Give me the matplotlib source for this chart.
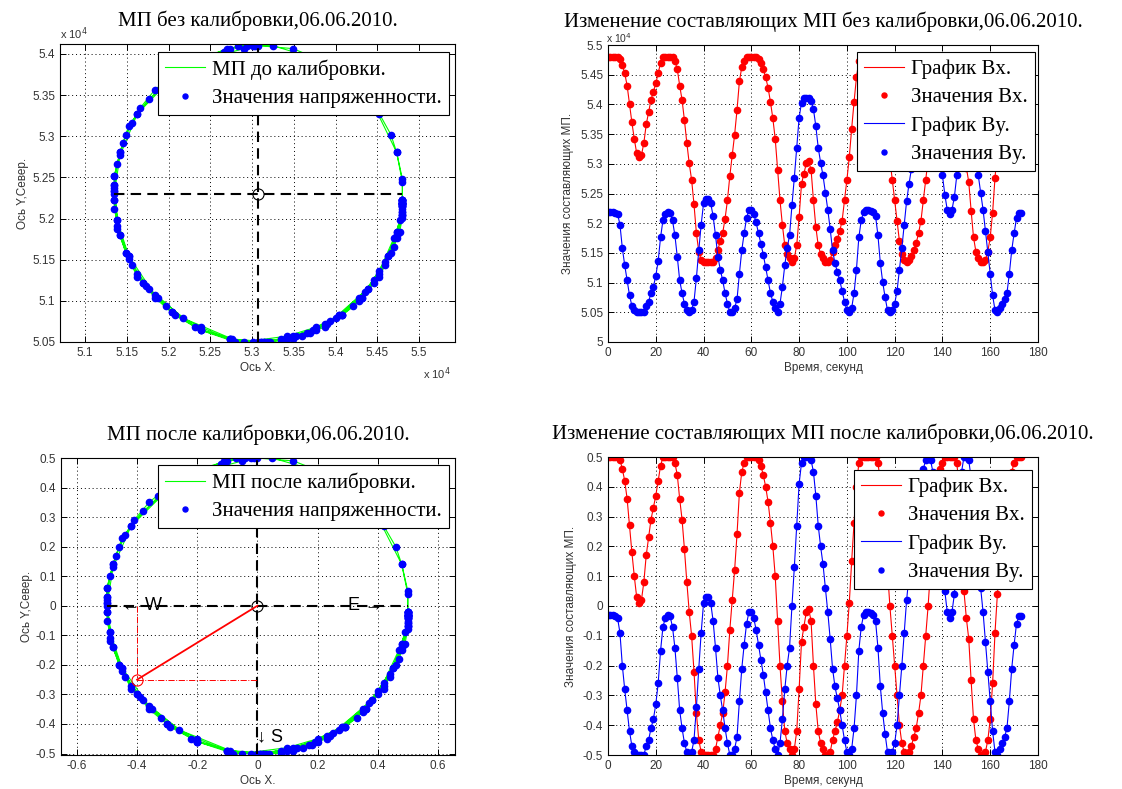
import numpy as np
import matplotlib.pyplot as plt
from matplotlib.ticker import FuncFormatter

# raw magnetometer readings (nT), one sample per second
bx_raw = [54800, 54800, 54800, 54800, 54800, 54766, 54662, 54524, 54317, 54007,
          53696, 53420, 53179, 53110, 53144, 53351, 53662, 53869, 54076, 54214,
          54352, 54524, 54697, 54800, 54800, 54800, 54800, 54800, 54731, 54593,
          54317, 54076, 53731, 53351, 53006, 52730, 52316, 51833, 51523, 51385,
          51350, 51350, 51350, 51350, 51350, 51419, 51557, 51695, 51833, 52075,
          52385, 52799, 53144, 53489, 53903, 54386, 54628, 54731, 54800, 54800,
          54800, 54800, 54800, 54766, 54697, 54593, 54455, 54283, 54041, 53765,
          53420, 52903, 52385, 51971, 51626, 51488, 51419, 51350, 51419, 51626,
          52109, 52661, 52834, 53006, 53041, 52903, 52385, 51937, 51626, 51488,
          51419, 51350, 51350, 51385, 51523, 51626, 51730, 51868, 52040, 52385,
          52730, 53110, 53593, 54041, 54455, 54731, 54800, 54800, 54800, 54800,
          54800, 54800, 54800, 54731, 54524, 54283, 53938, 53489, 53075, 52730,
          52385, 52040, 51695, 51488, 51385, 51350, 51385, 51454, 51557, 51661,
          51833, 52040, 52385, 52730, 53075, 53489, 53834, 54214, 54524, 54662,
          54731, 54800, 54800, 54800, 54800, 54800, 54731, 54455, 53834, 53248,
          52937, 52696, 52213, 51764, 51523, 51419, 51350, 51350, 51385, 51523,
          51764, 52178, 52765, 53213, 53524, 53765, 53869, 54076, 54386, 54628,
          54731, 54800, 54800, 54800]
by_raw = [52192, 52192, 52192, 52174, 52156, 51976, 51580, 51292, 51040, 50788,
          50608, 50536, 50500, 50500, 50500, 50500, 50608, 50680, 50824, 50932,
          51112, 51364, 51760, 52048, 52156, 52192, 52174, 52048, 51796, 51436,
          51040, 50824, 50644, 50536, 50500, 50536, 50680, 51076, 51544, 51976,
          52336, 52408, 52408, 52336, 52120, 51796, 51436, 51220, 51040, 50824,
          50644, 50500, 50500, 50572, 50716, 51148, 51544, 51832, 52084, 52228,
          52228, 52156, 52012, 51832, 51652, 51472, 51256, 51040, 50824, 50680,
          50572, 50500, 50644, 50932, 51292, 51580, 51796, 52300, 52768, 53272,
          53776, 54028, 54100, 54100, 54100, 54064, 53920, 53632, 53272, 53020,
          52804, 52516, 52228, 51904, 51544, 51328, 51184, 51040, 50860, 50680,
          50536, 50500, 50572, 50824, 51220, 51760, 52048, 52192, 52228, 52228,
          52210, 52192, 52120, 51796, 51328, 51004, 50752, 50536, 50500, 50536,
          50644, 50860, 51220, 51580, 51976, 52372, 52660, 52912, 53164, 53344,
          53560, 53740, 53956, 54064, 54100, 54064, 53920, 53668, 53272, 53020,
          52804, 52480, 52228, 52156, 52228, 52444, 52804, 53380, 53920, 54100,
          54100, 54064, 53848, 53452, 53128, 52804, 52516, 52228, 51868, 51508,
          51148, 50788, 50536, 50500, 50572, 50644, 50716, 50824, 51148, 51544,
          51832, 52084, 52174, 52174]

# example field vector drawn on the calibrated plot
vec_x, vec_y = -0.4, -0.25

t = np.arange(len(bx_raw))
bx = np.array(bx_raw, dtype=float)
by = np.array(by_raw, dtype=float)

# min/max calibration
cx = (bx.max() + bx.min()) / 2
cy = (by.max() + by.min()) / 2
bx_cal = (bx - cx) / (bx.max() - bx.min())
by_cal = (by - cy) / (by.max() - by.min())

W, H = 1122, 789
fig = plt.figure(figsize=(W / 100, H / 100), dpi=100)

SERIF = 'Liberation Serif'
SANS = 'Liberation Sans'
GREEN = '#00ff00'
LABEL_C = '#333333'
MS = 9


def px_axes(l, t_, r, b):
    return fig.add_axes([l / W, 1 - b / H, (r - l) / W, (b - t_) / H])


def style(ax):
    ax.grid(True, linestyle=(0, (1, 3)), color='k', linewidth=0.7)
    ax.set_axisbelow(True)
    ax.tick_params(direction='in', top=True, right=True, labelsize=8.5,
                   length=4, width=0.7, labelcolor=LABEL_C)
    for lab in ax.get_xticklabels() + ax.get_yticklabels():
        lab.set_family(SANS)
    for s in ax.spines.values():
        s.set_linewidth(0.8)


def add_legend(ax, handles, right, top):
    leg = ax.legend(handles=handles, loc='upper right',
                    bbox_to_anchor=(right / W, 1 - top / H),
                    bbox_transform=fig.transFigure,
                    prop={'family': SERIF, 'size': 15},
                    fancybox=False, framealpha=1, edgecolor='k',
                    borderpad=0.35, labelspacing=0.42, handlelength=1.9,
                    handletextpad=0.35, borderaxespad=0, markerscale=0.8)
    leg.get_frame().set_linewidth(0.8)
    return leg


def labels(ax, xl, yl, ypad=2):
    ax.set_xlabel(xl, family=SANS, fontsize=8.5, color=LABEL_C, labelpad=2)
    ax.set_ylabel(yl, family=SANS, fontsize=8.5, color=LABEL_C, labelpad=ypad)


fmt = FuncFormatter(lambda v, p: '%g' % (round(v, 6) + 0.0))
fmt4 = FuncFormatter(lambda v, p: '%g' % (round(v / 1e4, 6) + 0.0))

# ---------- top left: raw circle ----------
ax1 = px_axes(60, 44, 455, 342)
g1, = ax1.plot(bx, by, '-', color=GREEN, lw=0.8, label='МП до калибровки.')
p1, = ax1.plot(bx, by, '.', color='b', ms=MS, label='Значения напряженности.')
ax1.plot([bx.min(), bx.max()], [cy, cy], 'k--', lw=1.5, dashes=(5, 3))
ax1.plot([cx, cx], [by.min(), by.max()], 'k--', lw=1.5, dashes=(5, 3))
ax1.plot(cx, cy, 'o', color='k', mfc='none', ms=8, mew=0.8)
ax1.set_xlim(50700, 55430)
ax1.set_ylim(50500, 54120)
ax1.set_xticks(np.arange(51000, 55001, 500))
ax1.set_yticks(np.arange(50500, 54001, 500))
ax1.xaxis.set_major_formatter(fmt4)
ax1.yaxis.set_major_formatter(fmt4)
style(ax1)
ax1.set_title('МП без калибровки,06.06.2010.', family=SERIF, fontsize=15, pad=13)
labels(ax1, 'Ось X.', 'Ось Y,Север.')
add_legend(ax1, [g1, p1], 449, 52)
fig.text(60 / W, 1 - 34 / H, r'x 10$^4$', family=SANS, fontsize=8, color=LABEL_C, va='center')
fig.text(423 / W, 1 - 374 / H, r'x 10$^4$', family=SANS, fontsize=8, color=LABEL_C, va='center')

# ---------- top right: raw components ----------
ax2 = px_axes(608, 45, 1038, 342)
l1, = ax2.plot(t, bx, '-', color='r', lw=0.8, label='График Bx.')
m1, = ax2.plot(t, bx, '.', color='r', ms=MS, label='Значения Bx.')
l2, = ax2.plot(t, by, '-', color='b', lw=0.8, label='График By.')
m2, = ax2.plot(t, by, '.', color='b', ms=MS, label='Значения By.')
ax2.set_xlim(0, 180)
ax2.set_ylim(50000, 55000)
ax2.set_xticks(np.arange(0, 181, 20))
ax2.set_yticks(np.arange(50000, 55001, 500))
ax2.yaxis.set_major_formatter(fmt4)
style(ax2)
ax2.set_title('Изменение составляющих МП без калибровки,06.06.2010.', family=SERIF,
              fontsize=15, pad=13)
labels(ax2, 'Время, секунд', 'Значения составляющих МП.', ypad=4)
add_legend(ax2, [l1, m1, l2, m2], 1035, 52)
fig.text(606 / W, 1 - 38 / H, r'x 10$^4$', family=SANS, fontsize=7.5, color=LABEL_C, va='center')

# ---------- bottom left: calibrated circle ----------
ax3 = px_axes(61, 458, 455, 755)
g3, = ax3.plot(bx_cal, by_cal, '-', color=GREEN, lw=0.8, label='МП после калибровки.')
p3, = ax3.plot(bx_cal, by_cal, '.', color='b', ms=MS, label='Значения напряженности.')
ax3.plot([-0.5, 0.5], [0, 0], 'k--', lw=1.5, dashes=(5, 3))
ax3.plot([0, 0], [-0.5, 0.5], 'k--', lw=1.5, dashes=(5, 3))
ax3.plot(0, 0, 'o', color='k', mfc='none', ms=8, mew=0.8)
ax3.plot([vec_x, vec_x], [0, vec_y], '-.', color='r', lw=0.7)
ax3.plot([vec_x, 0], [vec_y, vec_y], '-.', color='r', lw=0.7)
ax3.plot([0, vec_x], [0, vec_y], '-', color='r', lw=1.3)
ax3.plot(vec_x, vec_y, 'o', color='r', mfc='none', ms=8, mew=0.8)
ax3.text(-0.45, 0, '← W', family=SANS, fontsize=13, va='center', ha='left')
ax3.text(0.3, 0, 'E →', family=SANS, fontsize=13, va='center', ha='left')
ax3.text(0.0, -0.445, '↓ S', family=SANS, fontsize=13, va='center', ha='left')
ax3.set_xlim(-0.653, 0.657)
ax3.set_ylim(-0.505, 0.5)
ax3.set_xticks(np.arange(-0.6, 0.61, 0.2))
ax3.set_yticks(np.arange(-0.5, 0.51, 0.1))
ax3.xaxis.set_major_formatter(fmt)
ax3.yaxis.set_major_formatter(fmt)
style(ax3)
ax3.set_title('МП после калибровки,06.06.2010.', family=SERIF, fontsize=15, pad=13)
labels(ax3, 'Ось X.', 'Ось Y,Север.')
add_legend(ax3, [g3, p3], 449, 465)

# ---------- bottom right: calibrated components ----------
ax4 = px_axes(608, 457, 1038, 755)
l3, = ax4.plot(t, bx_cal, '-', color='r', lw=0.8, label='График Bx.')
m3, = ax4.plot(t, bx_cal, '.', color='r', ms=MS, label='Значения Bx.')
l4, = ax4.plot(t, by_cal, '-', color='b', lw=0.8, label='График By.')
m4, = ax4.plot(t, by_cal, '.', color='b', ms=MS, label='Значения By.')
ax4.set_xlim(0, 180)
ax4.set_ylim(-0.5, 0.5)
ax4.set_xticks(np.arange(0, 181, 20))
ax4.set_yticks(np.arange(-0.5, 0.51, 0.1))
ax4.yaxis.set_major_formatter(fmt)
style(ax4)
ax4.set_title('Изменение составляющих МП после калибровки,06.06.2010.', family=SERIF,
              fontsize=15, pad=13)
labels(ax4, 'Время, секунд', 'Значения составляющих МП.', ypad=4)
add_legend(ax4, [l3, m3, l4, m4], 1032, 470)

fig.savefig('out.png', dpi=100)
